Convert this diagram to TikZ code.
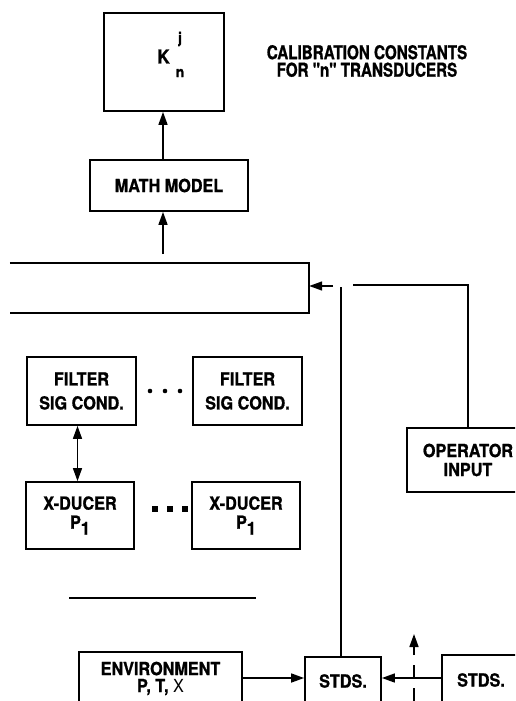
\documentclass[tikz,border=0pt]{standalone}
\usepackage{fontspec}
\setmainfont{TeX Gyre Heros}[FakeStretch=0.9,BoldFeatures={FakeBold=1}]
\newfontfamily\capfont{TeX Gyre Heros}[FakeStretch=0.8,BoldFeatures={FakeBold=1}]
\usetikzlibrary{arrows.meta,positioning,calc}

\begin{document}
\begin{tikzpicture}[x=1pt,y=-1pt]
    \tikzset{
      blk/.style={draw,line width=1.8pt,inner sep=0pt,align=center,font=\fontsize{18}{21}\selectfont\bfseries},
      arrow/.style={-{Triangle[length=13pt,width=9pt]},line width=1.6pt},
      dblarrow/.style={{Triangle[length=13pt,width=9pt]}-{Triangle[length=13pt,width=9pt]},line width=1.6pt},
      wire/.style={line width=1.6pt}
    }
    \useasboundingbox (0,0) rectangle (515,701);
    \clip (0,0) rectangle (515,701);
    % output side
    \node[blk,minimum width=120pt,minimum height=98pt] (kbox) at (164,62) {};
    \node[font=\fontsize{19}{19}\selectfont\bfseries,inner sep=0pt] (ksym) at (163.5,56.5) {K};
    \node[font=\fontsize{15}{15}\selectfont\bfseries,inner sep=0pt] (ksup) at (180,39) {j};
    \node[font=\fontsize{15}{15}\selectfont\bfseries,inner sep=0pt] (ksub) at (180,73) {n};
    \node[font=\capfont\fontsize{19}{17.5}\selectfont\bfseries,align=center,inner sep=0pt] (caption) at (367,61) {CALIBRATION CONSTANTS\\FOR "n" TRANSDUCERS};
    \node[blk,minimum width=158pt,minimum height=51pt] (math) at (169,185.5) {MATH MODEL};
    \node[minimum width=299pt,minimum height=50pt,inner sep=0pt] (bar) at (159.5,288) {};
    \draw[wire] (bar.north west) -- (bar.north east) -- (bar.south east) -- (bar.south west);
    % transducer chain
    \node[blk,minimum width=109pt,minimum height=68pt] (filt1) at (81.5,391) {FILTER\\[3pt]SIG COND.};
    \node[blk,minimum width=109pt,minimum height=68pt] (filt2) at (247.5,391) {FILTER\\[3pt]SIG COND.};
    \node[blk,minimum width=108pt,minimum height=67pt] (xd1) at (80,515.5) {X-DUCER\\[-2pt]P\raisebox{-6pt}{1}};
    \node[blk,minimum width=108pt,minimum height=67pt] (xd2) at (246,515.5) {X-DUCER\\[-2pt]P\raisebox{-6pt}{1}};
    \foreach \dx in {150,165,180} \fill (\dx,391) circle (2.3pt);
    \foreach \dx in {152,167,182} \fill (\dx,506) rectangle ++(5.5,5.5);
    \draw[wire] (69,598) -- (256,598);
    % standards and operator
    \node[blk,minimum width=122pt,minimum height=64pt] (op) at (468,460) {OPERATOR\\[-2pt]INPUT};
    \node[blk,minimum width=163pt,minimum height=53pt] (env) at (160.5,678.5) {ENVIRONMENT\\[-4pt]P, T, {\mdseries X}};
    \node[blk,minimum width=76pt,minimum height=48pt] (stds1) at (343,681) {STDS.};
    \node[blk,minimum width=78pt,minimum height=50pt] (stds2) at (481,680) {STDS.};
    \coordinate (barout) at (163,254);
    \coordinate (barin) at (333,286);
    \coordinate (opstart) at (353,285);
    \coordinate (vtop) at (341,287);
    \coordinate (dashlow) at (414,701);
    \coordinate (dashtip) at (414,634);
    \draw[arrow] ([xshift=-6pt]math.north) -- ([xshift=-6pt]math.north |- kbox.south);
    \draw[arrow] (barout) -- (barout |- math.south);
    \draw[arrow] (barin) -- (barin -| bar.east);
    \draw[wire] (opstart) -- (opstart -| op.north) -- (op.north);
    \draw[wire] (vtop) -- (vtop |- stds1.north);
    \draw[dblarrow] ([xshift=-4pt]filt1.south) -- ([xshift=-4pt]filt1.south |- xd1.north);
    \draw[arrow] (env.east |- 0,678) -- (stds1.west |- 0,678);
    \draw[arrow] (stds2.west |- 0,678) -- (stds1.east |- 0,678);
    \draw[arrow,dash pattern=on 13pt off 10pt] (dashlow) -- (dashtip);
  \end{tikzpicture}
\end{document}
